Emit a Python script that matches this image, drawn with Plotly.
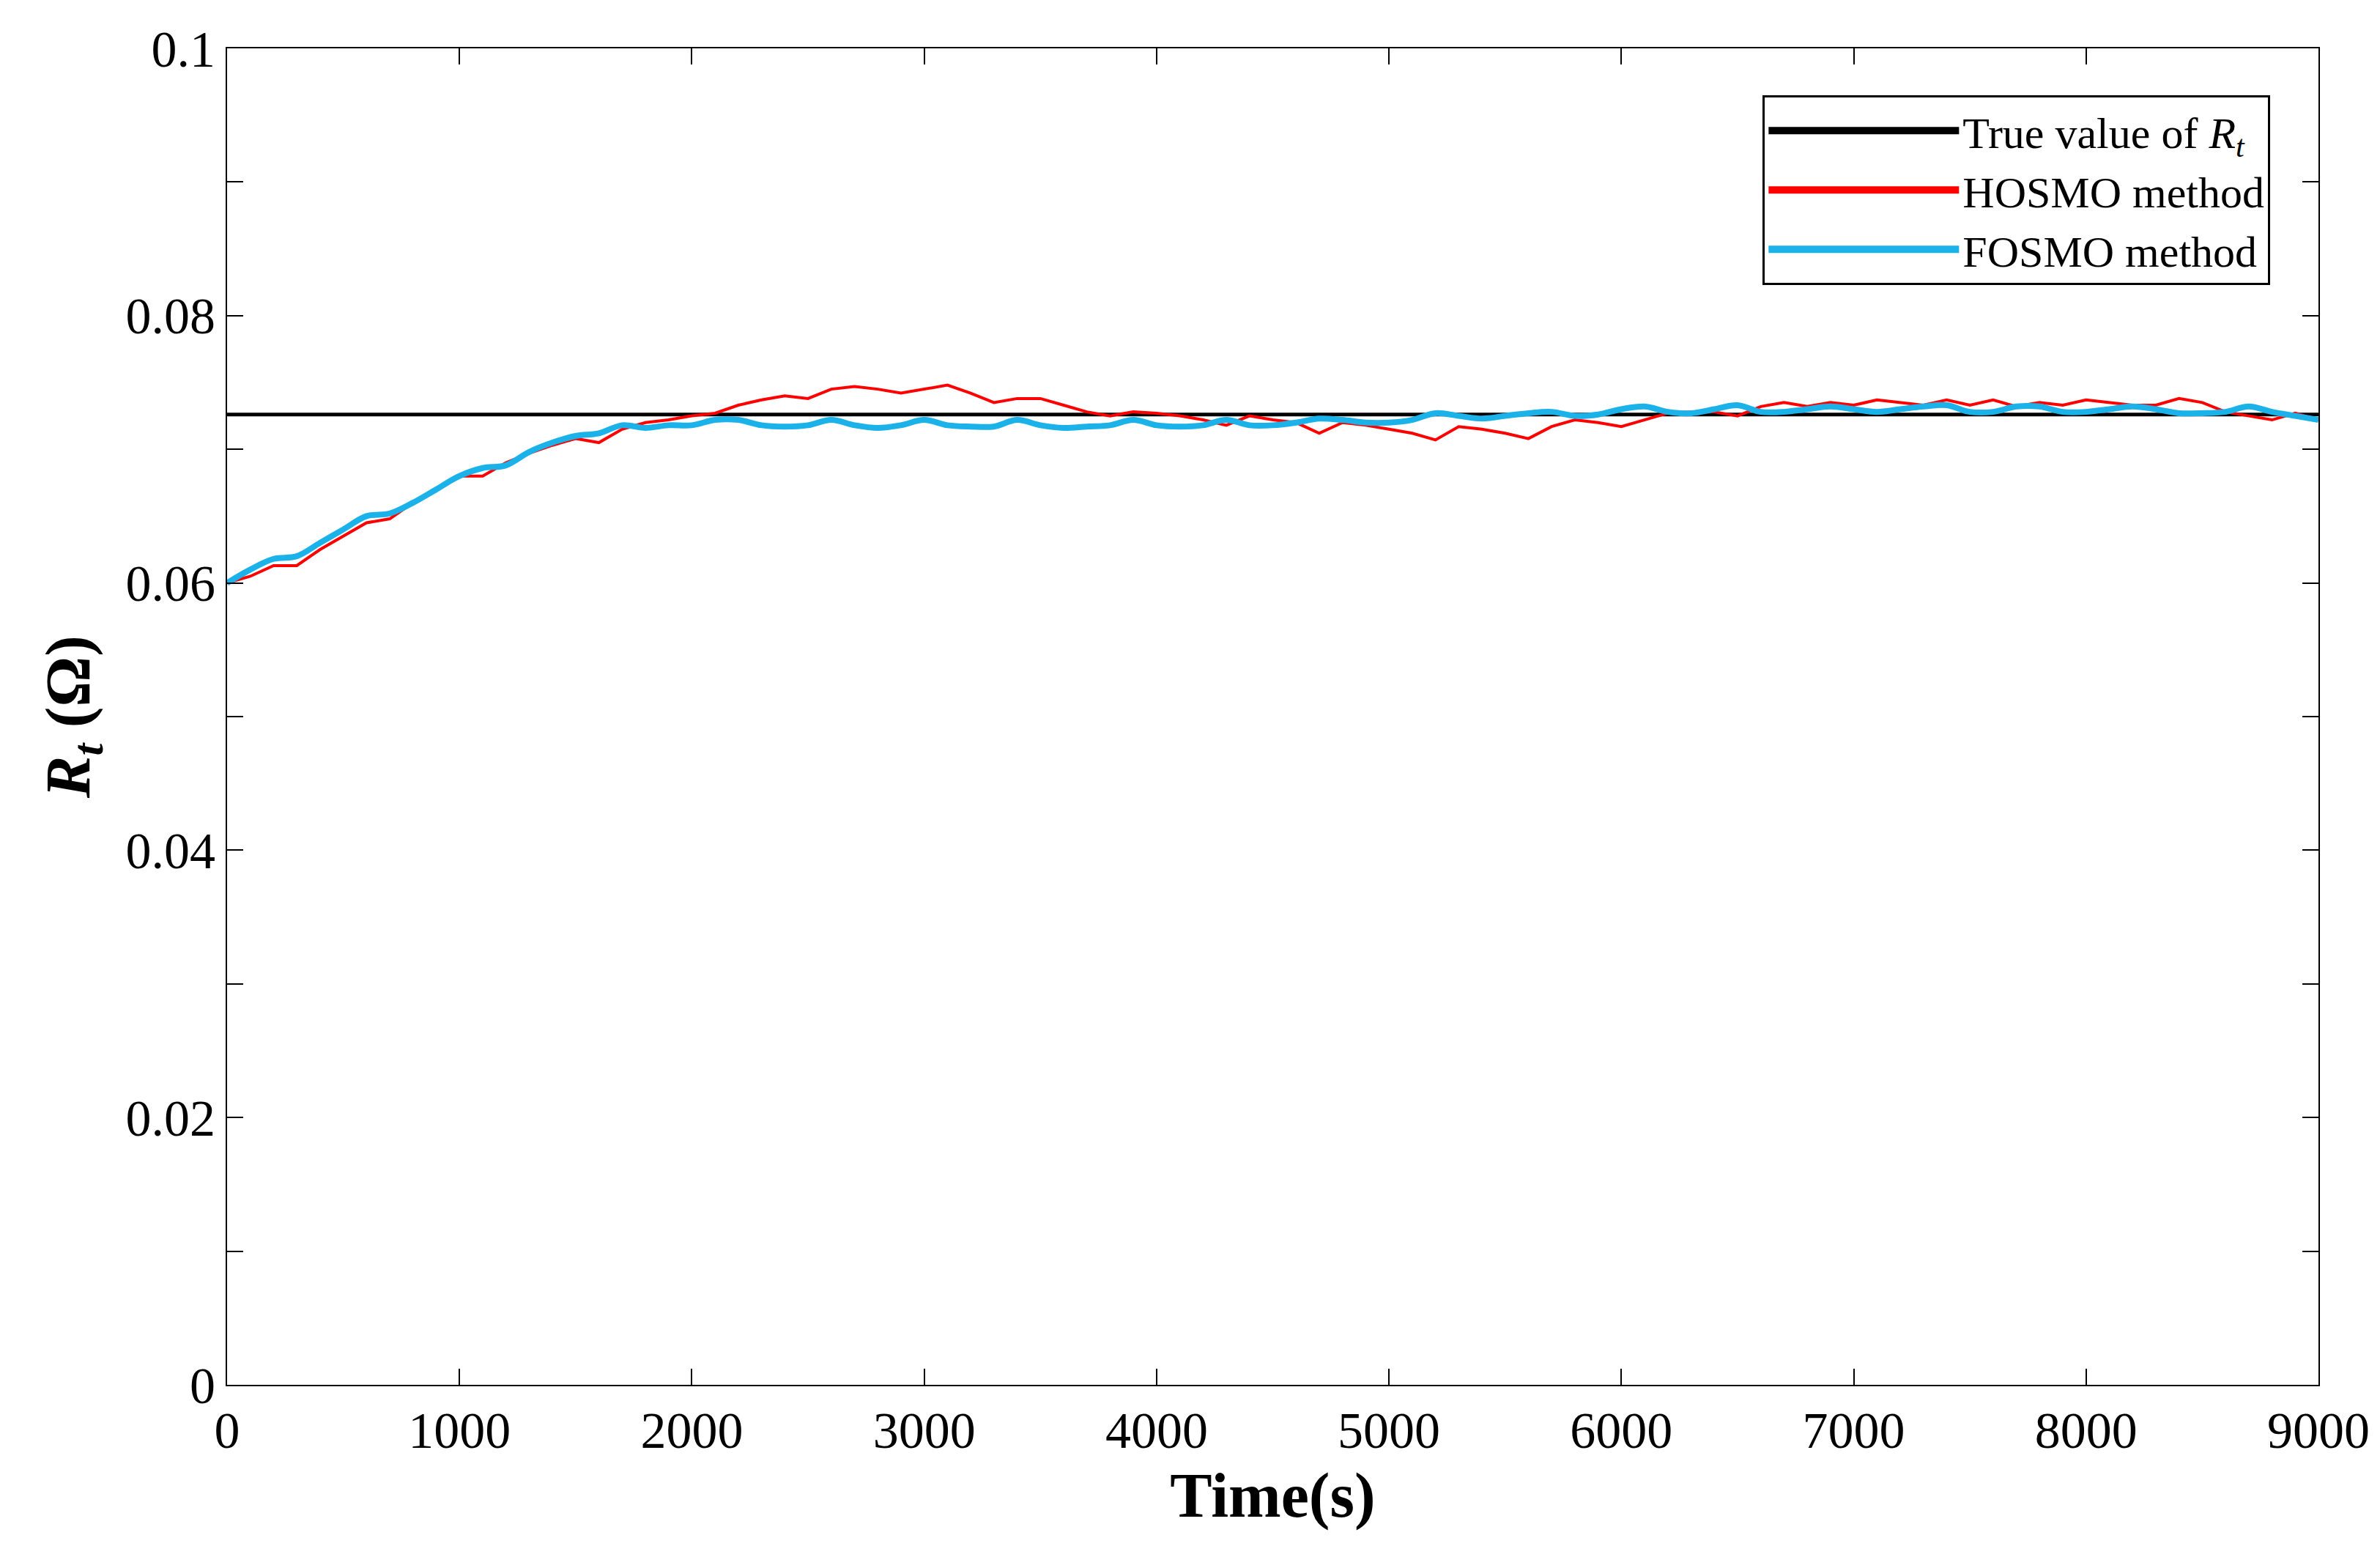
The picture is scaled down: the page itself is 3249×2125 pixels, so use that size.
import plotly.graph_objects as go

time_s = list(range(0, 9100, 100))
true_rt = 0.0726
hosmo = [0.0600, 0.0605, 0.0613, 0.0613, 0.0625, 0.0635, 0.0645, 0.0648, 0.0660, 0.0670,
         0.0680, 0.0680, 0.0690, 0.0697, 0.0703, 0.0708, 0.0705, 0.0715, 0.0720, 0.0722,
         0.0725, 0.0727, 0.0733, 0.0737, 0.0740, 0.0738, 0.0745, 0.0747, 0.0745, 0.0742,
         0.0745, 0.0748, 0.0742, 0.0735, 0.0738, 0.0738, 0.0733, 0.0728, 0.0725, 0.0728,
         0.0727, 0.0725, 0.0722, 0.0718, 0.0725, 0.0722, 0.0720, 0.0712, 0.0720, 0.0718,
         0.0715, 0.0712, 0.0707, 0.0717, 0.0715, 0.0712, 0.0708, 0.0717, 0.0722, 0.0720,
         0.0717, 0.0722, 0.0727, 0.0728, 0.0728, 0.0725, 0.0732, 0.0735, 0.0732, 0.0735,
         0.0733, 0.0737, 0.0735, 0.0733, 0.0737, 0.0733, 0.0737, 0.0732, 0.0735, 0.0733,
         0.0737, 0.0735, 0.0733, 0.0733, 0.0738, 0.0735, 0.0728, 0.0725, 0.0722, 0.0727,
         0.0722]
fosmo = [0.0600, 0.0610, 0.0618, 0.0620, 0.0630, 0.0640, 0.0650, 0.0652, 0.0660, 0.0670,
         0.0680, 0.0686, 0.0688, 0.0698, 0.0705, 0.0710, 0.0712, 0.0718, 0.0716, 0.0718,
         0.0718, 0.0722, 0.0722, 0.0718, 0.0717, 0.0718, 0.0722, 0.0718, 0.0716, 0.0718,
         0.0722, 0.0718, 0.0717, 0.0717, 0.0722, 0.0718, 0.0716, 0.0717, 0.0718, 0.0722,
         0.0718, 0.0717, 0.0718, 0.0722, 0.0718, 0.0718, 0.0720, 0.0723, 0.0722, 0.0720,
         0.0720, 0.0722, 0.0727, 0.0725, 0.0723, 0.0725, 0.0727, 0.0728, 0.0725, 0.0726,
         0.0730, 0.0732, 0.0728, 0.0727, 0.0730, 0.0733, 0.0728, 0.0728, 0.0730, 0.0732,
         0.0730, 0.0728, 0.0730, 0.0732, 0.0733, 0.0728, 0.0728, 0.0732, 0.0732, 0.0728,
         0.0728, 0.0730, 0.0732, 0.0730, 0.0727, 0.0727, 0.0728, 0.0732, 0.0728, 0.0725,
         0.0722]

names = ["True value of <i>R</i><sub><i>t</i></sub>", "HOSMO method", "FOSMO method"]
colors = ["black", "#ff0000", "#1ab2e8"]

font = "Liberation Serif"
fig = go.Figure()
fig.add_trace(go.Scatter(x=[time_s[0], time_s[-1]], y=[true_rt, true_rt], mode="lines",
                         line=dict(color=colors[0], width=5), showlegend=False))
fig.add_trace(go.Scatter(x=time_s, y=hosmo, mode="lines", line=dict(color=colors[1], width=4),
                         showlegend=False))
fig.add_trace(go.Scatter(x=time_s, y=fosmo, mode="lines", line=dict(color=colors[2], width=8, shape="spline"),
                         showlegend=False))
# legend entries with thick sample lines
for n, c in zip(names, colors):
    fig.add_trace(go.Scatter(x=[None], y=[None], mode="lines", line=dict(color=c, width=10), name=n))

axis = dict(showgrid=False, zeroline=False, showline=True, linecolor="black", linewidth=2,
            mirror="ticks", ticks="inside", ticklen=22, tickwidth=2, tickcolor="black",
            tickfont=dict(family=font, size=70, color="black"))
fig.update_xaxes(range=[0, 9000], dtick=1000, **axis,
                 title=dict(text="<b>Time(s)</b>", font=dict(family=font, size=86, color="black"), standoff=20))
fig.update_yaxes(range=[0, 0.1], tickvals=[0, 0.02, 0.04, 0.06, 0.08, 0.1],
                 ticktext=["0", "0.02", "0.04", "0.06", "0.08", "0.1"],
                 minor=dict(dtick=0.01, ticks="inside", ticklen=22, tickwidth=2, tickcolor="black"), **axis,
                 title=dict(text="<b><i>R<sub>t</sub></i> (Ω)</b>", font=dict(family=font, size=86, color="black"), standoff=20))
fig.update_layout(
    width=3249, height=2125, plot_bgcolor="white", paper_bgcolor="white",
    margin=dict(l=302, r=92, t=58, b=243),
    font=dict(family=font, color="black"),
    legend=dict(x=0.977, y=0.965, xanchor="right", yanchor="top", bordercolor="black", borderwidth=3,
                bgcolor="white", font=dict(family=font, size=60), itemwidth=260, tracegroupgap=0,
                entrywidth=0),
)
fig.write_html("out.html")
